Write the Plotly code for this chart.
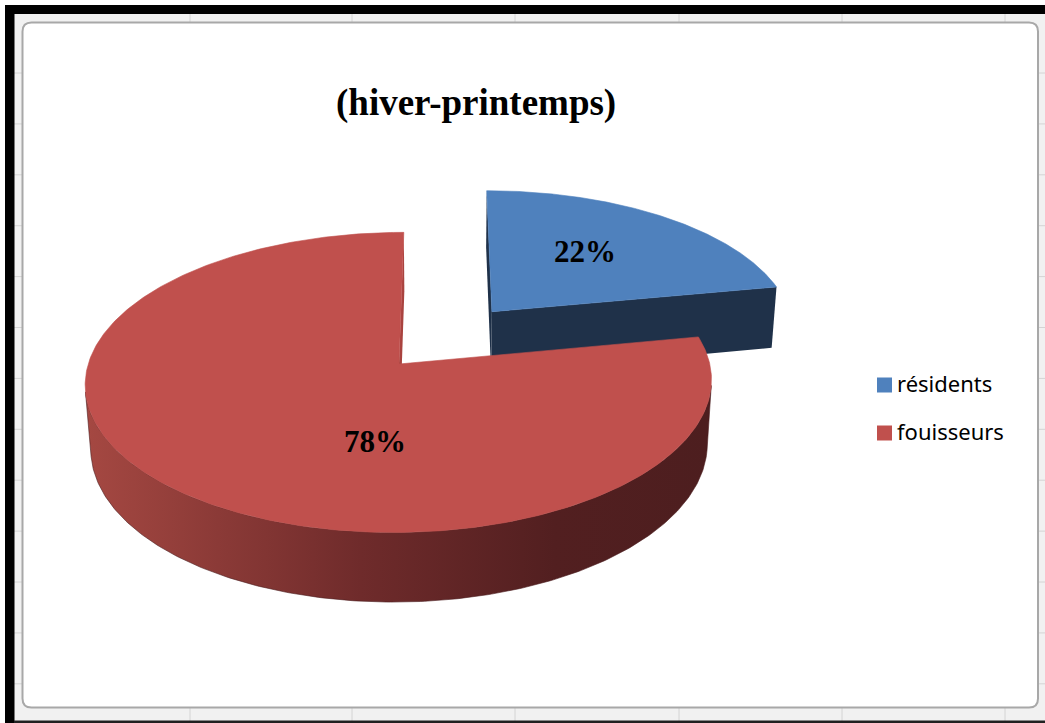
import numpy as np
import plotly.graph_objects as go

# ---- data ----
categories = ["résidents", "fouisseurs"]
values = [22, 78]
title_text = "(hiver-printemps)"

# ---- styling ----
top_colors = ["#4f81bd", "#c0504d"]
side_colors = ["#1f3149", "#4b1d1e"]
radial_colors = ["#1f3149", "#a9433f"]
side_gradients = [
    None,
    [[0.0, "#a54842"], [0.44, "#6f2b2b"], [0.75, "#521f20"], [1.0, "#4d1e1f"]],
]
explode = [0.48, 0.0]         # radial pull, in units of the pie radius
label_pos = [(585, 251), (375, 441)]

# ---- simple perspective camera (screen units = pixels) ----
VX, CY = 443.0, 364.0         # screen position of the optical axis
CAM_X = 0.1416                # camera offset to the right of the pie centre
FOCAL = 2225.0
DIST = 7.16
ALPHA = np.radians(28.4)
THICK = 0.237
SA, CA = np.sin(ALPHA), np.cos(ALPHA)
CAM = np.array([CAM_X, DIST * SA, -DIST * CA])


def project(X, Y, Z):
    X, Y, Z = np.asarray(X, float), np.asarray(Y, float), np.asarray(Z, float)
    depth = DIST - Y * SA + Z * CA
    return VX + FOCAL * (X - CAM_X) / depth, CY - FOCAL * (Y * CA + Z * SA) / depth


def poly_trace(xs, ys, color=None, gradient=None, edge=0.6):
    kw = dict(x=np.append(xs, xs[0]), y=np.append(ys, ys[0]), mode="lines",
              fill="toself", line=dict(width=edge, color=color or gradient[-1][1]),
              hoverinfo="skip", showlegend=False)
    if gradient is not None:
        kw["fillgradient"] = dict(type="horizontal", colorscale=gradient)
    else:
        kw["fillcolor"] = color
    return go.Scatter(**kw)


total = float(sum(values))
fracs = np.array(values) / total
bounds = np.concatenate([[0.0], np.cumsum(fracs)]) * 2 * np.pi

slices = []
for i in range(len(values)):
    t0, t1 = bounds[i], bounds[i + 1]
    mid = 0.5 * (t0 + t1)
    ox, oz = explode[i] * np.sin(mid), explode[i] * np.cos(mid)
    slices.append((i, t0, t1, ox, oz))

# draw far slices first
slices.sort(key=lambda s: -s[4])

traces = []
for i, t0, t1, ox, oz in slices:
    theta = np.linspace(t0, t1, 400)
    corner = np.array([ox, 0.0, oz])

    # radial faces
    for t, sign in ((t0, -1), (t1, 1)):
        normal = sign * np.array([np.cos(t), 0.0, -np.sin(t)])
        if normal @ (CAM - corner) > 1e-6 and fracs[i] < 1:
            X = [ox, ox + np.sin(t), ox + np.sin(t), ox]
            Y = [0, 0, -THICK, -THICK]
            Z = [oz, oz + np.cos(t), oz + np.cos(t), oz]
            xs, ys = project(X, Y, Z)
            traces.append(poly_trace(xs, ys, color=radial_colors[i], edge=0))

    # outer curved wall, visible part only
    vis = (-1 + np.sin(theta) * (CAM_X - ox)
           - np.cos(theta) * (DIST * CA + oz)) > 0
    if vis.any():
        idx = np.flatnonzero(vis)
        runs = np.split(idx, np.flatnonzero(np.diff(idx) > 1) + 1)
        for run in runs:
            th = theta[run]
            X = ox + np.sin(th)
            Z = oz + np.cos(th)
            xt, yt = project(X, np.zeros_like(th), Z)
            xb, yb = project(X, np.full_like(th, -THICK), Z)
            traces.append(poly_trace(np.concatenate([xt, xb[::-1]]),
                                     np.concatenate([yt, yb[::-1]]),
                                     color=side_colors[i],
                                     gradient=side_gradients[i]))

    # top face
    X = np.concatenate([[ox], ox + np.sin(theta)])
    Z = np.concatenate([[oz], oz + np.cos(theta)])
    xs, ys = project(X, np.zeros_like(X), Z)
    traces.append(poly_trace(xs, ys, color=top_colors[i]))

fig = go.Figure(traces)

# ---- percentage labels ----
for i, v in enumerate(values):
    fig.add_annotation(x=label_pos[i][0], y=label_pos[i][1],
                       text=f"<b>{round(v / total * 100)}%</b>", showarrow=False,
                       font=dict(family="Liberation Serif", size=31, color="black"))

# ---- title ----
fig.add_annotation(x=476, y=103, text=f"<b>{title_text}</b>", showarrow=False,
                   font=dict(family="Liberation Serif", size=37, color="black"))

# ---- legend ----
for i, name in enumerate(categories):
    yc = 385 + 48 * i
    fig.add_shape(type="rect", x0=877, x1=892, y0=yc - 7.5, y1=yc + 7.5,
                  fillcolor=top_colors[i], line=dict(width=0))
    fig.add_annotation(x=895, y=yc - 2, text=name, showarrow=False, xanchor="left",
                       font=dict(family="Noto Sans", size=22, color="black"))

# ---- worksheet frame around the chart area ----
shapes = []
shapes.append(dict(type="rect", x0=14, x1=1045, y0=14, y1=721, layer="below",
                   fillcolor="#f1f1f1", line=dict(width=0)))
for gx in (190, 352, 515, 679, 842, 1005):
    shapes.append(dict(type="line", x0=gx, x1=gx, y0=14, y1=721, layer="below",
                       line=dict(color="#d4d4d4", width=1)))
for k in range(13):
    gy = 73 + 50.9 * k
    shapes.append(dict(type="line", x0=14, x1=1045, y0=gy, y1=gy, layer="below",
                       line=dict(color="#d4d4d4", width=1)))
x0, x1, y0, y1, r = 22.5, 1038, 22.5, 707.5, 9
path = (f"M{x0 + r},{y0} L{x1 - r},{y0} Q{x1},{y0} {x1},{y0 + r} "
        f"L{x1},{y1 - r} Q{x1},{y1} {x1 - r},{y1} L{x0 + r},{y1} "
        f"Q{x0},{y1} {x0},{y1 - r} L{x0},{y0 + r} Q{x0},{y0} {x0 + r},{y0} Z")
shapes.append(dict(type="path", path=path, layer="below", fillcolor="white",
                   line=dict(color="#a8a8a8", width=2)))
shapes.append(dict(type="rect", x0=6, x1=1045, y0=5, y1=14, layer="above",
                   fillcolor="black", line=dict(width=0)))
shapes.append(dict(type="rect", x0=5, x1=14.5, y0=5, y1=723, layer="above",
                   fillcolor="black", line=dict(width=0)))
shapes.append(dict(type="rect", x0=14, x1=1045, y0=720.5, y1=723, layer="above",
                   fillcolor="#202020", line=dict(width=0)))
for s in shapes:
    fig.add_shape(**s)

fig.update_layout(
    width=1045, height=723, margin=dict(l=0, r=0, t=0, b=0),
    paper_bgcolor="white", plot_bgcolor="white", showlegend=False,
    xaxis=dict(range=[0, 1045], visible=False, fixedrange=True),
    yaxis=dict(range=[723, 0], visible=False, fixedrange=True),
)

fig.write_html("out.html")
